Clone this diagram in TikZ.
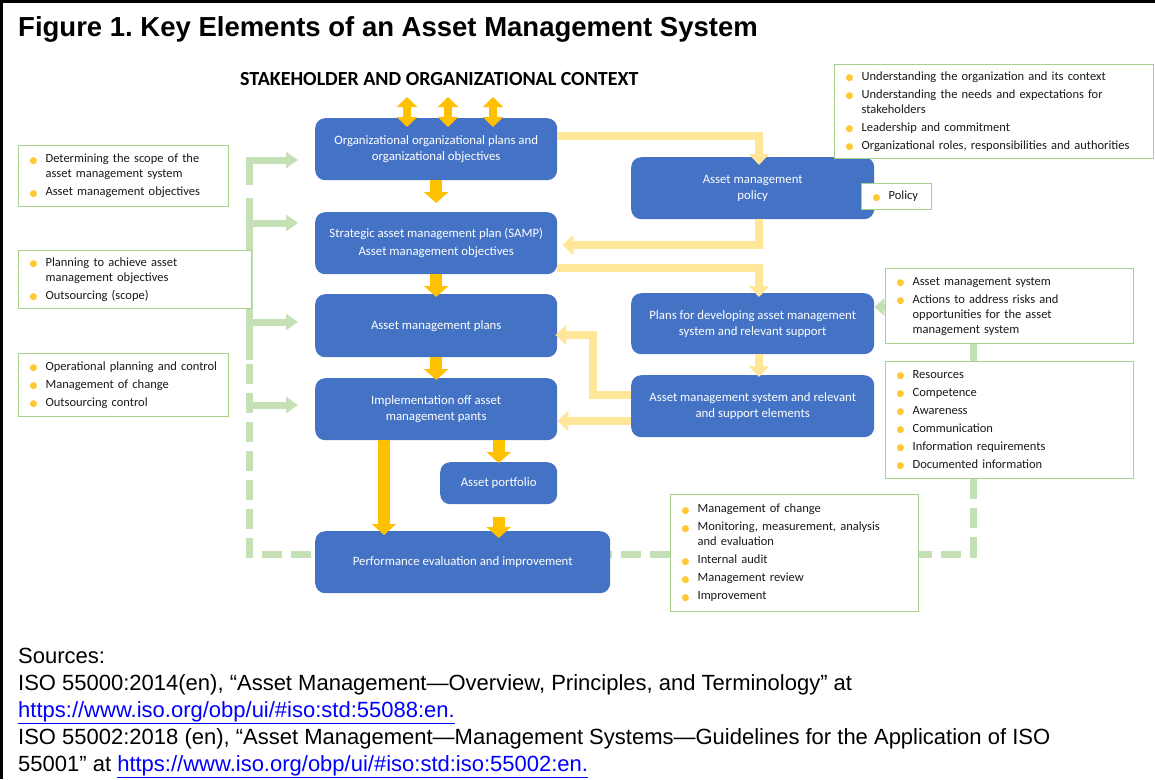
\documentclass[tikz,border=0pt]{standalone}
\usepackage{fontspec}
\setmainfont{Carlito}
\newfontfamily\arialf{Liberation Sans}
\newfontfamily\dejavuf{DejaVu Sans}
\usetikzlibrary{arrows.meta,calc}
\pgfdeclarelayer{bg}
\pgfsetlayers{bg,main}
\frenchspacing
\definecolor{boxblue}{HTML}{4472C4}
\definecolor{orng}{HTML}{FFC000}
\definecolor{lyel}{HTML}{FFE699}
\definecolor{lgreen}{HTML}{C5E0B4}
\definecolor{gborder}{HTML}{A9D18E}
\definecolor{bul}{HTML}{FFC933}
\definecolor{linkblue}{HTML}{0000FF}
\newcommand\bl{\makebox[24pt][c]{\raisebox{-0.6pt}{\textcolor{bul}{\dejavuf\fontsize{9}{9}\selectfont ●}}}}
\newcommand\ind{\hspace*{24pt}}
\tikzset{
  bbox/.style={rectangle, rounded corners=10pt, fill=boxblue, text=white,
    font=\fontsize{12.8}{16}\selectfont, align=center, inner sep=0pt, anchor=north west},
  gbox/.style={rectangle, draw=gborder, line width=1.2pt, fill=white, text=black!90,
    font=\fontsize{12.5}{15}\selectfont, align=left, inner xsep=3pt, inner ysep=0pt, anchor=north west},
  oarrow/.style={draw=orng, line width=12pt, -{Triangle[length=11pt,width=24pt]}},
  odbl/.style={draw=orng, line width=8pt, {Triangle[length=10pt,width=20pt]}-{Triangle[length=10pt,width=20pt]}},
  yarrow/.style={draw=lyel, line width=8.5pt, line join=miter, -{Triangle[length=11pt,width=20pt]}},
  gline/.style={draw=lgreen, line width=7pt, line join=miter},
  garrow/.style={gline, -{Triangle[length=12pt,width=16pt]}},
  gdash/.style={gline, dash pattern=on 20pt off 9pt},
  srcline/.style={anchor=base west, inner sep=0pt, font=\arialf\fontsize{22}{27}\selectfont},
}
\begin{document}
\begin{tikzpicture}[x=1pt,y=-1pt]
\useasboundingbox (0,0) rectangle (1155,779);
\draw[line width=3pt] (1.5,779) -- (1.5,1.5) -- (1155,1.5);

\node[anchor=base west, inner sep=0pt, font=\arialf\bfseries\fontsize{27.5}{30}\selectfont] (title) at (18,36)
  {Figure 1. Key Elements of an Asset Management System};
\node[anchor=base west, inner sep=0pt, font=\bfseries\fontsize{20}{22}\selectfont] (ctx) at (240,85)
  {STAKEHOLDER AND ORGANIZATIONAL CONTEXT};

% blue boxes
\node[bbox, minimum width=242pt, minimum height=62pt] (b1) at (315,118) {Organizational organizational plans and\\organizational objectives};
\node[bbox, minimum width=242pt, minimum height=62pt] (b2) at (315,212) {Strategic asset management plan (SAMP)\\[2pt]Asset management objectives};
\node[bbox, minimum width=242pt, minimum height=63pt] (b3) at (315,294) {Asset management plans};
\node[bbox, minimum width=242pt, minimum height=62pt] (b4) at (315,378) {Implementation off asset\\management pants};
\node[bbox, minimum width=117pt, minimum height=42pt] (b5) at (440,462) {Asset portfolio};
\node[bbox, minimum width=295pt, minimum height=62pt] (b6) at (315,531) {Performance evaluation and improvement};
\node[bbox, minimum width=243pt, minimum height=62pt] (r1) at (631,157) {Asset management\\policy};
\node[bbox, minimum width=243pt, minimum height=61pt] (r2) at (631,293) {Plans for developing asset management\\system and relevant support};
\node[bbox, minimum width=243pt, minimum height=62pt] (r3) at (631,375) {Asset management system and relevant\\and support elements};

% green boxes
\node[gbox, text width=313pt, minimum height=94pt] (gtr) at (834,64) {\bl Understanding the organization and its context\\[3pt]
\bl Understanding the needs and expectations for\\
\ind stakeholders\\[3pt]
\bl Leadership and commitment\\[3pt]
\bl Organizational roles, responsibilities and authorities};
\node[gbox, text width=64pt, minimum height=26pt] (gpol) at (861,183) {\bl Policy};
\node[gbox, text width=204pt, minimum height=61pt] (g1) at (18,145) {\bl Determining the scope of the\\
\ind asset management system\\[3pt]
\bl Asset management objectives};
\node[gbox, text width=227pt, minimum height=58pt] (g2) at (18,250) {\bl Planning to achieve asset\\
\ind management objectives\\[3pt]
\bl Outsourcing (scope)};
\node[gbox, text width=204pt, minimum height=63pt] (g3) at (18,353) {\bl Operational planning and control\\[3pt]
\bl Management of change\\[3pt]
\bl Outsourcing control};
\node[gbox, text width=242pt, minimum height=75pt] (gr1) at (885,268) {\bl Asset management system\\[3pt]
\bl Actions to address risks and\\
\ind opportunities for the asset\\
\ind management system};
\node[gbox, text width=242pt, minimum height=117pt] (gr2) at (885,361) {\bl Resources\\[3pt]
\bl Competence\\[3pt]
\bl Awareness\\[3pt]
\bl Communication\\[3pt]
\bl Information requirements\\[3pt]
\bl Documented information};
\node[gbox, text width=242pt, minimum height=117pt] (gb) at (670,494) {\bl Management of change\\[3pt]
\bl Monitoring, measurement, analysis\\
\ind and evaluation\\[3pt]
\bl Internal audit\\[3pt]
\bl Management review\\[3pt]
\bl Improvement};

% helper coordinates
\coordinate (bus1t) at (249,160);
\coordinate (bus1b) at (249,185);
\coordinate (bus2t) at (249,198);
\coordinate (bus2b) at (249,360);
\coordinate (bus3t) at (249,364);
\coordinate (bl) at (249,554);
\coordinate (t1) at (298,160);
\coordinate (t2) at (298,223);
\coordinate (t3) at (298,322);
\coordinate (t4) at (298,405);
\coordinate (rc) at (973,554);
\coordinate (ga) at (880,307);

\begin{pgfonlayer}{bg}
\draw[garrow] (bus1b) -- (bus1t) -- (t1);
\draw[gline] (bus2t) -- (bus2b);
\draw[garrow] (bus2t|-t2) -- (t2);
\draw[garrow] (bus2t|-t3) -- (t3);
\draw[garrow] (bus2t|-t4) -- (t4);
\draw[gdash] (bus3t) -- (bl) -- (b6.west|-bl);
\draw[gdash] (gr2.south-|rc) -- (rc) -- (gb.east|-rc);
\draw[gdash] (gb.west|-rc) -- (b6.east|-rc);
\draw[gline] (gr1.south-|rc) -- (gr2.north-|rc);
\end{pgfonlayer}
\draw[draw=lgreen, line width=6pt, -{Triangle[length=10pt,width=17pt]}] (gr1.west|-ga) -- (r2.east|-ga);

% orange arrows
\coordinate (s1) at (407,97);
\coordinate (s2) at (448,97);
\coordinate (s3) at (493,97);
\draw[odbl] (s1) -- ($(s1|-b1.north)+(0,9)$);
\draw[odbl] (s2) -- ($(s2|-b1.north)+(0,9)$);
\draw[odbl] (s3) -- ($(s3|-b1.north)+(0,9)$);
\draw[oarrow] (b1.south) -- ($(b2.north)+(0,-9)$);
\draw[oarrow] (b2.south) -- ($(b3.north)+(0,3)$);
\draw[oarrow] (b3.south) -- ($(b4.north)+(0,2)$);
\coordinate (lx) at (384,0);
\draw[oarrow] (b4.south-|lx) -- ($(b6.north-|lx)+(0,4)$);
\draw[oarrow] (b4.south-|b5.north) -- ($(b5.north)+(0,1)$);
\draw[oarrow] ($(b5.south)+(0,13)$) -- ($(b6.north-|b5.south)+(0,7)$);

% light yellow arrows
\coordinate (yx) at (759,0);
\coordinate (yA) at (0,136);
\coordinate (yB) at (0,245);
\coordinate (yC) at (0,268);
\coordinate (yD) at (0,395);
\coordinate (yE) at (0,335);
\coordinate (yF) at (0,421);
\coordinate (k1) at (593,395);
\draw[yarrow] (b1.east|-yA) -| ($(r1.north-|yx)+(0,8)$);
\draw[yarrow] (r1.south-|yx) |- ($(b2.east|-yB)+(5,0)$);
\draw[yarrow] (b2.east|-yC) -| ($(r2.north-|yx)+(0,4)$);
\draw[yarrow] (r2.south-|yx) -- ($(r3.north-|yx)+(0,2)$);
\draw[yarrow] (r3.west|-yD) -- (k1) |- ($(b3.east|-yE)+(-2,0)$);
\draw[yarrow] (r3.west|-yF) -- (b4.east|-yF);

% sources
\node[srcline] (src1) at (18,663) {Sources:};
\node[srcline] (src2) at (18,690) {ISO 55000:2014(en), “Asset Management—Overview, Principles, and Terminology” at};
\node[srcline] (src3) at (18,717) {\textcolor{linkblue}{\underline{https://www.iso.org/obp/ui/\#iso:std:55088:en.}}};
\node[srcline] (src4) at (18,744) {ISO 55002:2018 (en), “Asset Management—Management Systems—Guidelines for the Application of ISO};
\node[srcline] (src5) at (18,771) {55001” at \textcolor{linkblue}{\underline{https://www.iso.org/obp/ui/\#iso:std:iso:55002:en.}}};
\end{tikzpicture}
\end{document}
